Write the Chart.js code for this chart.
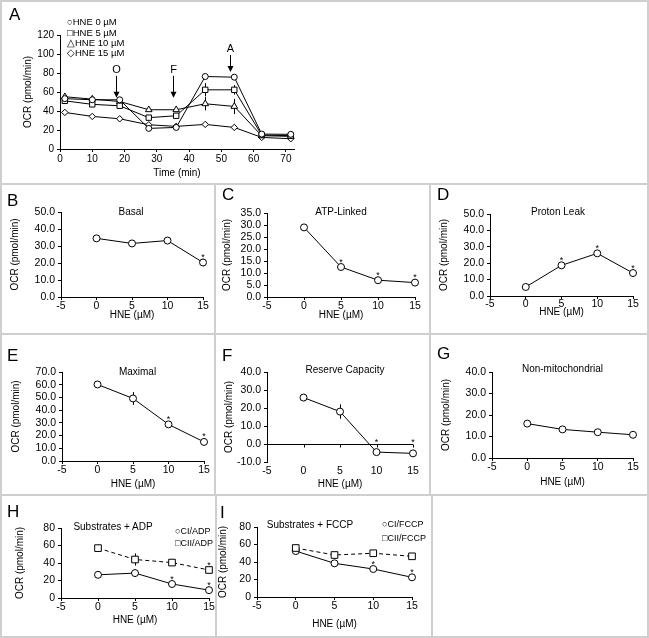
<!DOCTYPE html>
<html>
<head>
<meta charset="utf-8">
<title>OCR vs HNE</title>
<script src="https://cdn.jsdelivr.net/npm/chart.js@4.4.1/dist/chart.umd.min.js"></script>
<style>
  html, body { margin:0; padding:0; background:#fff; }
  #fig { position:relative; width:649px; height:638px; overflow:hidden; font-family:"Liberation Sans", Arial, sans-serif; color:#000; }
  #fig canvas { position:absolute; }
  .t { position:absolute; white-space:nowrap; line-height:1; }
  .rule { position:absolute; background:#cfcfcf; z-index:5; }
</style>
</head>
<body>
<div id="fig"></div>
<script>
// panel A - OCR trace
var timeMin  = [1.5, 10, 18.5, 27.5, 36, 45, 54, 62.5, 71.5];
var ocrHne0  = [53, 51.8, 51.8, 21.7, 22.7, 76.3, 75.6, 15.7, 15.4];
var ocrHne5  = [50.7, 47, 45.5, 33, 35, 62.3, 62.3, 14.7, 14];
var ocrHne10 = [55, 52.5, 50, 41.3, 41.3, 47.6, 44.8, 14, 13.3];
var ocrHne15 = [38.5, 34.3, 31.8, 25.5, 23.8, 25.9, 22.7, 12.2, 10.8];
var errHne5  = [0, 0, 0, 0, 1.5, 7, 5, 0, 0];
var errHne10 = [0, 0, 0, 0, 0, 7, 8, 0, 0];
// injections (oligomycin, FCCP, antimycin)
var injLabel = ['O', 'F', 'A'];
var injTime  = [17.5, 35, 52.8];
var injTop   = [77, 77, 99];
var injTip   = [54, 54, 81];
var injText  = [83, 83, 105];

// panels B-I
var hneDose = [0, 5, 10, 15];
var basal = [34.5, 31.5, 33.2, 20.3], basalErr = [0.8, 0.6, 0.6, 2.2], basalSig = [0, 0, 0, 1];
var atpLinked = [29.0, 12.5, 7.0, 6.0], atpErr = [0.5, 1.2, 0.8, 0.6], atpSig = [0, 1, 1, 1];
var protonLeak = [5.5, 18.7, 26.0, 14.0], leakErr = [0.5, 0.8, 0.8, 0.8], leakSig = [0, 1, 1, 1];
var maximal = [60.2, 49.2, 28.8, 15.0], maxErr = [1, 5, 1.5, 1], maxSig = [0, 0, 1, 1];
var reserve = [25.8, 18.0, -4.5, -5.2], reserveErr = [2, 4, 0.8, 0.5], reserveSig = [0, 0, 1, 1];
var nonMito = [16.0, 13.3, 12.0, 10.8], nonMitoErr = [0.5, 1.5, 0.5, 0.5], nonMitoSig = [0, 0, 0, 0];
var ciAdp = [26.5, 28.5, 16, 9], ciAdpErr = [1, 4, 2, 1.5], ciAdpSig = [0, 0, 1, 1];
var ciiAdp = [57, 44, 40.5, 32], ciiAdpErr = [4, 7, 1, 1.5], ciiAdpSig = [0, 0, 0, 1];
var ciFccp = [52.5, 38.5, 32, 22.5], ciFccpErr = [1, 1, 1, 1], ciFccpSig = [0, 0, 1, 1];
var ciiFccp = [56, 48, 50, 46.5], ciiFccpErr = [1, 3, 1, 1], ciiFccpSig = [0, 0, 0, 0];

var FONT = '"Liberation Sans", Arial, sans-serif';
var fig = document.getElementById('fig');

function xy(xs, ys) {
    return xs.map(function (x, i) { return {x: x, y: ys[i]}; });
}

function series(xs, ys, err, sig, style, radius, dash) {
    return {
        data: xy(xs, ys), err: err, sig: sig,
        borderColor: '#000', borderWidth: 1, borderDash: dash || [],
        pointStyle: style || 'circle', pointRadius: radius || 3.5,
        pointBackgroundColor: '#fff', pointBorderColor: '#000', pointBorderWidth: 1,
        fill: false, tension: 0, clip: false
    };
}

// error bars, asterisks, zero axis ticks, injection arrows
var marks = {
    id: 'marks',
    beforeDatasetsDraw: function (chart) {
        var ctx = chart.ctx, x = chart.scales.x, y = chart.scales.y;
        ctx.save();
        ctx.strokeStyle = '#000';
        ctx.lineWidth = 1;
        chart.data.datasets.forEach(function (ds) {
            if (!ds.err) return;
            ds.data.forEach(function (pt, i) {
                var e = ds.err[i];
                if (!e) return;
                var px = Math.round(x.getPixelForValue(pt.x)) + 0.5;
                ctx.beginPath();
                ctx.moveTo(px, y.getPixelForValue(pt.y + e));
                ctx.lineTo(px, y.getPixelForValue(pt.y - e));
                ctx.stroke();
            });
        });
        ctx.restore();
    },
    afterDatasetsDraw: function (chart, args, opts) {
        var ctx = chart.ctx, x = chart.scales.x, y = chart.scales.y;
        ctx.save();
        ctx.fillStyle = '#000';
        ctx.strokeStyle = '#000';
        ctx.lineWidth = 1;
        ctx.font = '9px ' + FONT;
        ctx.textAlign = 'center';
        ctx.textBaseline = 'alphabetic';
        chart.data.datasets.forEach(function (ds) {
            if (!ds.sig) return;
            ds.data.forEach(function (pt, i) {
                if (!ds.sig[i]) return;
                var top = Math.max(pt.y + (ds.err ? ds.err[i] : 0), opts.zero ? 0 : -1e9);
                var py = Math.min(y.getPixelForValue(top), y.getPixelForValue(pt.y) - 3.5);
                ctx.fillText('*', x.getPixelForValue(pt.x), py + 1);
            });
        });
        if (opts.zero) {
            var y0 = Math.round(y.getPixelForValue(0)) + 0.5;
            hneDose.forEach(function (d) {
                var px = Math.round(x.getPixelForValue(d)) + 0.5;
                ctx.beginPath();
                ctx.moveTo(px, y0);
                ctx.lineTo(px, y0 + 3);
                ctx.stroke();
            });
        }
        if (opts.arrows) {
            ctx.font = '11px ' + FONT;
            ctx.textBaseline = 'middle';
            injLabel.forEach(function (lab, i) {
                var px = Math.round(x.getPixelForValue(injTime[i])) + 0.5;
                var yt = y.getPixelForValue(injTop[i]), yb = y.getPixelForValue(injTip[i]);
                ctx.beginPath();
                ctx.moveTo(px, yt);
                ctx.lineTo(px, yb - 4);
                ctx.stroke();
                ctx.beginPath();
                ctx.moveTo(px - 3, yb - 6);
                ctx.lineTo(px + 3, yb - 6);
                ctx.lineTo(px, yb);
                ctx.closePath();
                ctx.fill();
                ctx.fillText(lab, px, y.getPixelForValue(injText[i]));
            });
        }
        ctx.restore();
    }
};

function makeChart(p) {
    var c = document.createElement('canvas');
    c.width = p.box[2];
    c.height = p.box[3];
    c.style.left = p.box[0] + 'px';
    c.style.top = p.box[1] + 'px';
    c.style.width = p.box[2] + 'px';
    c.style.height = p.box[3] + 'px';
    fig.appendChild(c);
    var yW = p.area[0] - p.box[0];
    var padT = p.area[1] - p.box[1];
    var padR = p.box[0] + p.box[2] - p.area[2];
    var xH = p.box[1] + p.box[3] - p.area[3];
    var tickFont = {family: FONT, size: p.tickSize || 10.5};
    var titleFont = {family: FONT, size: 10};
    var dec = p.y.dec;
    return new Chart(c, {
        type: 'line',
        data: {datasets: p.datasets},
        options: {
            responsive: false, animation: false, devicePixelRatio: 1, events: [],
            layout: {padding: {left: 0, top: padT, right: padR, bottom: 0}},
            plugins: {legend: {display: false}, tooltip: {enabled: false},
                marks: {zero: !!p.zero, arrows: !!p.arrows}},
            scales: {
                x: {
                    type: 'linear', min: p.x.min, max: p.x.max,
                    ticks: {stepSize: p.x.step, includeBounds: false, autoSkip: false, maxRotation: 0,
                        color: '#000', font: tickFont, padding: p.x.pad == null ? 0 : p.x.pad,
                        callback: function (v) { return String(v); }},
                    grid: {display: !p.zero, drawOnChartArea: false, tickLength: 3, color: '#000'},
                    border: {display: !p.zero, color: '#000', width: 1},
                    title: {display: true, text: p.x.title, color: '#000', font: titleFont,
                        padding: {top: 0, bottom: p.box[1] + p.box[3] - p.x.titleY - 6}},
                    afterFit: function (s) { s.height = xH; s.paddingLeft = 0; s.paddingRight = 0; }
                },
                y: {
                    type: 'linear', min: p.y.min, max: p.y.max,
                    ticks: {stepSize: p.y.step, autoSkip: false, color: '#000', font: tickFont, padding: 3,
                        callback: function (v) { return v.toFixed(dec); }},
                    grid: {display: true, drawOnChartArea: !!p.zero, tickLength: 3, tickColor: '#000',
                        color: function (ctx) {
                            if (!p.zero) return '#000';
                            return ctx.tick && ctx.tick.value === 0 ? '#000' : 'rgba(0,0,0,0)';
                        }},
                    border: {color: '#000', width: 1},
                    title: {display: true, text: 'OCR (pmol/min)', color: '#000', font: titleFont,
                        padding: {top: p.y.titleX - p.box[0] - 6, bottom: 0}},
                    afterFit: function (s) { s.width = yW; s.paddingTop = 0; s.paddingBottom = 0; }
                }
            }
        },
        plugins: [marks]
    });
}

// panel A
makeChart({
    box: [0, 0, 649, 184], area: [60, 35, 294, 149], arrows: true, tickSize: 10,
    x: {min: 0, max: 72.5, step: 10, title: 'Time (min)', titleY: 173, pad: 1},
    y: {min: 0, max: 120, step: 20, dec: 0, titleX: 28},
    datasets: [
        series(timeMin, ocrHne0, null, null, 'circle', 3),
        series(timeMin, ocrHne5, errHne5, null, 'rect', 3.8),
        series(timeMin, ocrHne10, errHne10, null, 'triangle', 3.8),
        series(timeMin, ocrHne15, null, null, 'rectRot', 3.2)
    ]
});

var hneTitle = 'HNE (\u00b5M)';
makeChart({box: [0, 184, 215, 150], area: [61, 212, 203, 297],
    x: {min: -5, max: 15, step: 5, title: hneTitle, titleY: 315},
    y: {min: 0, max: 50, step: 10, dec: 1, titleX: 15},
    datasets: [series(hneDose, basal, basalErr, basalSig)]});
makeChart({box: [215, 184, 215, 150], area: [267, 213, 415, 297],
    x: {min: -5, max: 15, step: 5, title: hneTitle, titleY: 315},
    y: {min: 0, max: 35, step: 5, dec: 1, titleX: 227.5},
    datasets: [series(hneDose, atpLinked, atpErr, atpSig)]});
makeChart({box: [430, 184, 219, 150], area: [490, 214, 633, 296],
    x: {min: -5, max: 15, step: 5, title: hneTitle, titleY: 312, pad: -1},
    y: {min: 0, max: 50, step: 10, dec: 1, titleX: 444},
    datasets: [series(hneDose, protonLeak, leakErr, leakSig)]});
makeChart({box: [0, 334, 215, 161], area: [62, 372, 204, 461],
    x: {min: -5, max: 15, step: 5, title: hneTitle, titleY: 484},
    y: {min: 0, max: 70, step: 10, dec: 1, titleX: 16},
    datasets: [series(hneDose, maximal, maxErr, maxSig)]});
makeChart({box: [215, 334, 215, 161], area: [267, 372, 413, 462], zero: true,
    x: {min: -5, max: 15, step: 5, title: hneTitle, titleY: 484},
    y: {min: -10, max: 40, step: 10, dec: 1, titleX: 229},
    datasets: [series(hneDose, reserve, reserveErr, reserveSig)]});
makeChart({box: [430, 334, 219, 161], area: [492, 372, 633, 458],
    x: {min: -5, max: 15, step: 5, title: hneTitle, titleY: 482},
    y: {min: 0, max: 40, step: 10, dec: 1, titleX: 446},
    datasets: [series(hneDose, nonMito, nonMitoErr, nonMitoSig)]});
makeChart({box: [0, 495, 216, 143], area: [61, 528, 209, 598],
    x: {min: -5, max: 15, step: 5, title: hneTitle, titleY: 620},
    y: {min: 0, max: 80, step: 20, dec: 0, titleX: 20},
    datasets: [series(hneDose, ciiAdp, ciiAdpErr, ciiAdpSig, 'rect', 4.7, [4, 3]),
               series(hneDose, ciAdp, ciAdpErr, ciAdpSig)]});
makeChart({box: [216, 495, 216, 143], area: [257, 527, 412, 597],
    x: {min: -5, max: 15, step: 5, title: hneTitle, titleY: 624},
    y: {min: 0, max: 80, step: 20, dec: 0, titleX: 223},
    datasets: [series(hneDose, ciiFccp, ciiFccpErr, ciiFccpSig, 'rect', 4.7, [4, 3]),
               series(hneDose, ciFccp, ciFccpErr, ciFccpSig)]});

// text: panel letters, panel titles, legends
function text(str, x, yc, size, center) {
    var d = document.createElement('div');
    d.className = 't';
    d.textContent = str;
    d.style.fontSize = size + 'px';
    d.style.left = x + 'px';
    d.style.top = (yc - size / 2) + 'px';
    if (center) d.style.transform = 'translateX(-50%)';
    fig.appendChild(d);
}
[['A', 9, 14], ['B', 7, 200.5], ['C', 222, 194.5], ['D', 437, 194.5], ['E', 7, 355],
 ['F', 222, 355], ['G', 437, 353.5], ['H', 7, 511.5], ['I', 220, 512.5]].forEach(function (l) {
    text(l[0], l[1], l[2], 17);
});
[['Basal', 131, 211.7], ['ATP-Linked', 341, 211.7], ['Proton Leak', 558, 211.7],
 ['Maximal', 137.5, 371.7], ['Reserve Capacity', 345, 370], ['Non-mitochondrial', 562.5, 369.3],
 ['Substrates + ADP', 113, 526.7], ['Substrates + FCCP', 310, 525]].forEach(function (l) {
    text(l[0], l[1], l[2], 10, true);
});
[['\u25cbHNE 0 \u00b5M', 21.7], ['\u25a1HNE 5 \u00b5M', 32.3], ['\u25b3HNE 10 \u00b5M', 42.7],
 ['\u25c7HNE 15 \u00b5M', 52.7]].forEach(function (l) {
    text(l[0], 67, l[1], 9.5);
});
text('\u25cbCI/ADP', 175, 531.7, 9);
text('\u25a1CII/ADP', 175, 543.3, 9);
text('\u25cbCI/FCCP', 382, 524, 9);
text('\u25a1CII/FCCP', 382, 538.3, 9);

// panel frame
function rule(l, t, w, h) {
    var d = document.createElement('div');
    d.className = 'rule';
    d.style.left = l + 'px'; d.style.top = t + 'px';
    d.style.width = w + 'px'; d.style.height = h + 'px';
    fig.appendChild(d);
}
rule(0, 0, 649, 2); rule(0, 636, 649, 2); rule(0, 0, 2, 638); rule(647, 0, 2, 638);
rule(0, 183, 649, 2); rule(0, 333, 649, 2); rule(0, 494, 649, 2);
rule(214, 184, 2, 311); rule(429, 184, 2, 311);
rule(215, 495, 2, 142); rule(431, 495, 2, 142);
</script>
</body>
</html>
